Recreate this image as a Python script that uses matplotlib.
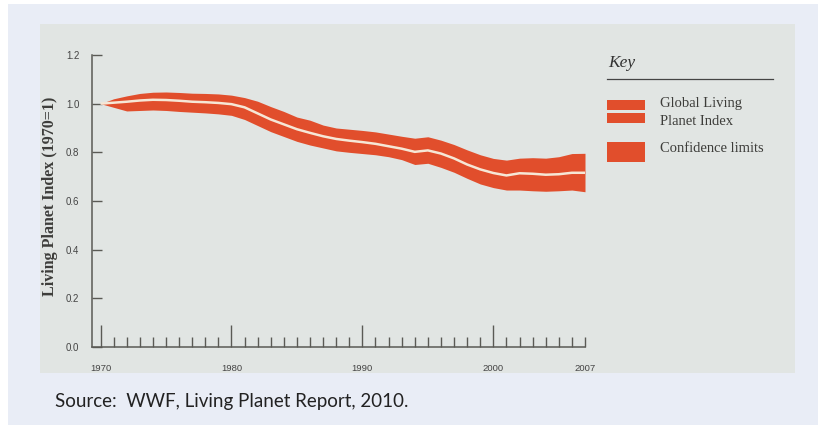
import matplotlib
matplotlib.use("Agg")
import matplotlib.pyplot as plt
from matplotlib.patches import Rectangle

# Global Living Planet Index, 1970 = 1, with confidence limits
years = list(range(1970, 2008))
index = [1.000, 1.004, 1.008, 1.013, 1.016, 1.015, 1.012, 1.008, 1.006, 1.003,
         0.998, 0.985, 0.960, 0.935, 0.915, 0.895, 0.880, 0.866, 0.855, 0.848,
         0.842, 0.835, 0.825, 0.815, 0.802, 0.808, 0.795, 0.775, 0.750, 0.730,
         0.715, 0.705, 0.714, 0.712, 0.708, 0.710, 0.716, 0.716]
lower = [1.000, 0.985, 0.970, 0.972, 0.974, 0.972, 0.968, 0.965, 0.962, 0.958,
         0.952, 0.935, 0.910, 0.885, 0.865, 0.845, 0.830, 0.818, 0.806, 0.800,
         0.795, 0.790, 0.782, 0.770, 0.750, 0.755, 0.738, 0.718, 0.693, 0.670,
         0.655, 0.645, 0.645, 0.642, 0.640, 0.642, 0.645, 0.638]
upper = [1.000, 1.020, 1.032, 1.042, 1.047, 1.048, 1.046, 1.043, 1.042, 1.040,
         1.035, 1.025, 1.010, 0.988, 0.968, 0.945, 0.932, 0.912, 0.900, 0.895,
         0.890, 0.884, 0.875, 0.866, 0.858, 0.864, 0.850, 0.832, 0.810, 0.790,
         0.775, 0.768, 0.776, 0.778, 0.776, 0.782, 0.795, 0.796]

y_ticks = [0.0, 0.2, 0.4, 0.6, 0.8, 1.0, 1.2]
x_labels = [1970, 1980, 1990, 2000, 2007]

band_color = "#e14e2c"
line_color = "#f6e7d6"
axis_color = "#5a5a55"
panel_color = "#e1e5e3"
outer_color = "#e9edf6"
text_color = "#3d3d3a"

W, H = 824, 429
fig = plt.figure(figsize=(W / 100, H / 100), dpi=100)
fig.patch.set_facecolor("white")


def px(x0, y0, w, h):
    return (x0 / W, 1 - (y0 + h) / H, w / W, h / H)


# Background panels
x, y, w, h = px(8, 4, 810, 421)
fig.add_artist(Rectangle((x, y), w, h, transform=fig.transFigure,
                         facecolor=outer_color, edgecolor="none", zorder=0))
x, y, w, h = px(40, 24, 755, 349)
fig.add_artist(Rectangle((x, y), w, h, transform=fig.transFigure,
                         facecolor=panel_color, edgecolor="none", zorder=0))

ax = fig.add_axes([92 / W, (H - 347) / H, (585 - 92) / W, (347 - 55) / H])
ax.set_facecolor("none")
ax.set_xlim(1969.35, 2007)
ax.set_ylim(0, 1.2)

ax.fill_between(years, lower, upper, color=band_color, linewidth=0, zorder=2)
ax.plot(years, index, color=line_color, linewidth=1.8, zorder=3,
        solid_capstyle="butt")

for s in ["top", "right"]:
    ax.spines[s].set_visible(False)
for s in ["left", "bottom"]:
    ax.spines[s].set_color(axis_color)
    ax.spines[s].set_linewidth(1.1)

ax.set_yticks(y_ticks)
ax.set_yticklabels([f"{v:.1f}" for v in y_ticks])
ax.tick_params(axis="y", direction="in", length=7, width=1.0,
               color=axis_color, labelsize=7, labelcolor="#444444", pad=9)

# Decade ticks are tall; every year gets a short tick; 2007 closes the axis
ax.set_xticks(years, minor=True)
ax.set_xticks([1970, 1980, 1990, 2000])
ax.set_xticklabels(["1970", "1980", "1990", "2000"])
ax.tick_params(axis="x", which="major", direction="in", length=16, width=1.0,
               color=axis_color, labelsize=6.8, labelcolor="#444444", pad=12)
ax.tick_params(axis="x", which="minor", direction="in", length=7, width=1.0,
               color=axis_color)
for lab in ax.get_xticklabels() + ax.get_yticklabels():
    lab.set_family("Liberation Sans")
ax.annotate(str(x_labels[-1]), xy=(x_labels[-1], 0), xycoords="data",
            xytext=(0, -12), textcoords="offset points", ha="center",
            va="top", fontsize=6.8, color="#444444", family="Liberation Sans",
            annotation_clip=False)

fig.text(50 / W, 1 - 196 / H, "Living Planet Index (1970=1)", rotation=90,
         ha="center", va="center", fontsize=11.5, fontweight="bold",
         family="Liberation Serif", color=text_color)

# Key
fig.text(608 / W, 1 - 63 / H, "Key", ha="left", va="center", fontsize=12.5,
         style="italic", family="Liberation Serif", color="#333333")
fig.add_artist(plt.Line2D([607 / W, 773 / W], [1 - 79 / H, 1 - 79 / H],
                          transform=fig.transFigure, color="#444444",
                          linewidth=0.9))
for (y0, hh) in [(100, 10), (113, 10), (142, 20)]:
    x, y, w, h = px(607, y0, 38, hh)
    fig.add_artist(Rectangle((x, y), w, h, transform=fig.transFigure,
                             facecolor=band_color, edgecolor="none"))
fig.text(660 / W, 1 - 104 / H, "Global Living", ha="left", va="center",
         fontsize=10.5, family="Liberation Serif", color=text_color)
fig.text(660 / W, 1 - 122 / H, "Planet Index", ha="left", va="center",
         fontsize=10.5, family="Liberation Serif", color=text_color)
fig.text(660 / W, 1 - 149 / H, "Confidence limits", ha="left", va="center",
         fontsize=10.5, family="Liberation Serif", color=text_color)

fig.text(55 / W, 1 - 401 / H, "Source:  WWF, Living Planet Report, 2010.",
         ha="left", va="center", fontsize=13.5, family="Lato",
         color="#222222")

fig.savefig("out.png", dpi=100, facecolor=fig.get_facecolor())
